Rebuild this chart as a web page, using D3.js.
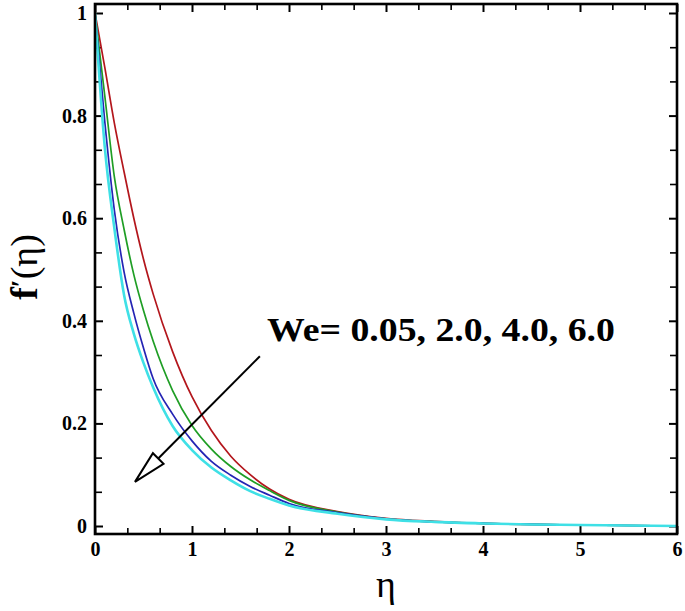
<!DOCTYPE html>
<html>
<head>
<meta charset="utf-8">
<script src="https://cdn.jsdelivr.net/npm/d3@7"></script>
<style>
  html, body { margin: 0; padding: 0; background: #fff; }
  svg { display: block; }
</style>
</head>
<body>
<svg id="chart" width="685" height="611"></svg>
<script>
// ---- data ----
const eta = [0, 0.1, 0.2, 0.3, 0.4, 0.5, 0.6, 0.8, 1.0, 1.2, 1.4, 1.6, 1.8, 2.0, 2.5, 3.0, 3.5, 4.0, 4.5, 5.0, 5.5, 6.0];
const seriesNames = ["We=0.05", "We=2.0", "We=4.0", "We=6.0"];
const fpWe005 = [1.0, 0.895, 0.785, 0.69, 0.60, 0.52, 0.452, 0.34, 0.252, 0.186, 0.136, 0.100, 0.072, 0.052, 0.028, 0.015, 0.009, 0.005, 0.003, 0.002, 0.001, 0.0];
const fpWe2   = [1.0, 0.84, 0.68, 0.578, 0.49, 0.42, 0.36, 0.264, 0.196, 0.150, 0.116, 0.090, 0.069, 0.050, 0.027, 0.014, 0.008, 0.005, 0.003, 0.002, 0.001, 0.0];
const fpWe4   = [1.0, 0.79, 0.615, 0.495, 0.415, 0.347, 0.287, 0.218, 0.166, 0.126, 0.099, 0.077, 0.060, 0.044, 0.026, 0.014, 0.008, 0.005, 0.003, 0.002, 0.001, 0.0];
const fpWe6   = [1.0, 0.74, 0.58, 0.45, 0.375, 0.318, 0.27, 0.195, 0.148, 0.114, 0.089, 0.068, 0.053, 0.040, 0.024, 0.013, 0.008, 0.005, 0.003, 0.002, 0.001, 0.0];
const xMajorTicks = [0, 1, 2, 3, 4, 5, 6];
const yMajorTicks = [0, 0.2, 0.4, 0.6, 0.8, 1];
const yTickLabels = ["0", "0.2", "0.4", "0.6", "0.8", "1"];
const legendText = "We= 0.05, 2.0, 4.0, 6.0";
// annotation arrow (data coords): start -> tip
const arrowStart = [1.70, 0.331];
const arrowTip = [0.412, 0.086];
const legendPos = [1.773, 0.36];

// ---- layout ----
const L = 95, R = 677, T = 4, B = 534;
const svg = d3.select("#chart");
svg.append("rect").attr("width", 685).attr("height", 611).attr("fill", "#fff");

const x = d3.scaleLinear().domain([0, 6]).range([L, R]);
const y = d3.scaleLinear().domain([0, 1]).range([526, 13]);

const font = "'Liberation Serif', 'Times New Roman', serif";

// minor tick values
const xMinor = d3.range(0, 18 + 1).map(i => i / 3).filter(v => Math.abs(v - Math.round(v)) > 1e-6);
const yMinor = d3.range(0, 15 + 1).map(i => i * 0.2 / 3).filter(v => Math.abs(v * 5 - Math.round(v * 5)) > 1e-6 && v <= 1.0001);

function styleAxis(g, sw) {
  g.select(".domain").remove();
  g.selectAll(".tick line").attr("stroke", "#000").attr("stroke-width", sw);
  g.selectAll("text").attr("font-family", font).attr("font-weight", "bold").attr("font-size", 20).attr("fill", "#000");
}

// bottom
svg.append("g").attr("transform", `translate(0,${B})`)
  .call(d3.axisBottom(x).tickValues(xMajorTicks).tickFormat(d3.format("d")).tickSize(-8).tickPadding(8))
  .call(g => styleAxis(g, 2));
svg.append("g").attr("transform", `translate(0,${B})`)
  .call(d3.axisBottom(x).tickValues(xMinor).tickFormat("").tickSize(-6))
  .call(g => styleAxis(g, 1.6));
// top
svg.append("g").attr("transform", `translate(0,${T})`)
  .call(d3.axisTop(x).tickValues(xMajorTicks).tickFormat("").tickSize(-8))
  .call(g => styleAxis(g, 2));
svg.append("g").attr("transform", `translate(0,${T})`)
  .call(d3.axisTop(x).tickValues(xMinor).tickFormat("").tickSize(-6))
  .call(g => styleAxis(g, 1.6));
// left
svg.append("g").attr("transform", `translate(${L},0)`)
  .call(d3.axisLeft(y).tickValues(yMajorTicks).tickFormat((d, i) => yTickLabels[i]).tickSize(-8).tickPadding(8))
  .call(g => styleAxis(g, 2));
svg.append("g").attr("transform", `translate(${L},0)`)
  .call(d3.axisLeft(y).tickValues(yMinor).tickFormat("").tickSize(-7))
  .call(g => styleAxis(g, 1.6));
// right
svg.append("g").attr("transform", `translate(${R},0)`)
  .call(d3.axisRight(y).tickValues(yMajorTicks).tickFormat("").tickSize(-8))
  .call(g => styleAxis(g, 2));
svg.append("g").attr("transform", `translate(${R},0)`)
  .call(d3.axisRight(y).tickValues(yMinor).tickFormat("").tickSize(-7))
  .call(g => styleAxis(g, 1.6));

// ---- curves ----
const series = [
  { vals: fpWe005, color: "#b3161c", w: 1.7 },
  { vals: fpWe2,   color: "#1f9e25", w: 1.7 },
  { vals: fpWe4,   color: "#2424b4", w: 1.7 },
  { vals: fpWe6,   color: "#3fe0e6", w: 2.6 }
];
const line = d3.line().x(d => x(d[0])).y(d => y(d[1])).curve(d3.curveMonotoneX);
svg.append("clipPath").attr("id", "clip").append("rect")
  .attr("x", L).attr("y", T).attr("width", R - L).attr("height", B - T);
const plot = svg.append("g").attr("clip-path", "url(#clip)");
series.forEach(s => {
  plot.append("path")
    .datum(eta.map((e, i) => [e, s.vals[i]]))
    .attr("d", line)
    .attr("fill", "none")
    .attr("stroke", s.color)
    .attr("stroke-width", s.w)
    .attr("stroke-linejoin", "round");
});

// frame
svg.append("rect").attr("x", L).attr("y", T).attr("width", R - L).attr("height", B - T)
  .attr("fill", "none").attr("stroke", "#000").attr("stroke-width", 2.6);

// ---- annotation ----
const sx = x(arrowStart[0]), sy = y(arrowStart[1]);
const tx = x(arrowTip[0]), ty = y(arrowTip[1]);
const ang = Math.atan2(ty - sy, tx - sx);
const headLen = 33, headHalf = 7.5;
const bx = tx - headLen * Math.cos(ang), by = ty - headLen * Math.sin(ang);
svg.append("line").attr("x1", sx).attr("y1", sy).attr("x2", bx).attr("y2", by)
  .attr("stroke", "#000").attr("stroke-width", 2);
const px = -Math.sin(ang), py = Math.cos(ang);
svg.append("path")
  .attr("d", `M${tx},${ty}L${bx + px * headHalf},${by + py * headHalf}L${bx - px * headHalf},${by - py * headHalf}Z`)
  .attr("fill", "#fff").attr("stroke", "#000").attr("stroke-width", 2).attr("stroke-linejoin", "miter");

svg.append("text")
  .attr("x", x(legendPos[0])).attr("y", y(legendPos[1]))
  .attr("font-family", font).attr("font-weight", "bold").attr("font-size", 34)
  .attr("textLength", 348).attr("lengthAdjust", "spacingAndGlyphs")
  .attr("fill", "#000")
  .text(legendText);

// ---- axis titles ----
svg.append("text")
  .attr("x", (L + R) / 2).attr("y", 597)
  .attr("text-anchor", "middle")
  .attr("font-family", font).attr("font-size", 38).attr("fill", "#000")
  .text("η");

const yt = svg.append("text")
  .attr("transform", "translate(37,267) rotate(-90)")
  .attr("text-anchor", "middle")
  .attr("font-family", font).attr("font-size", 38).attr("font-weight", "bold").attr("fill", "#000");
yt.append("tspan").text("f");
yt.append("tspan").attr("font-size", 28).attr("dy", -7).text("′");
yt.append("tspan").attr("dy", 7).attr("font-weight", "normal").text("(η)");
</script>
</body>
</html>
